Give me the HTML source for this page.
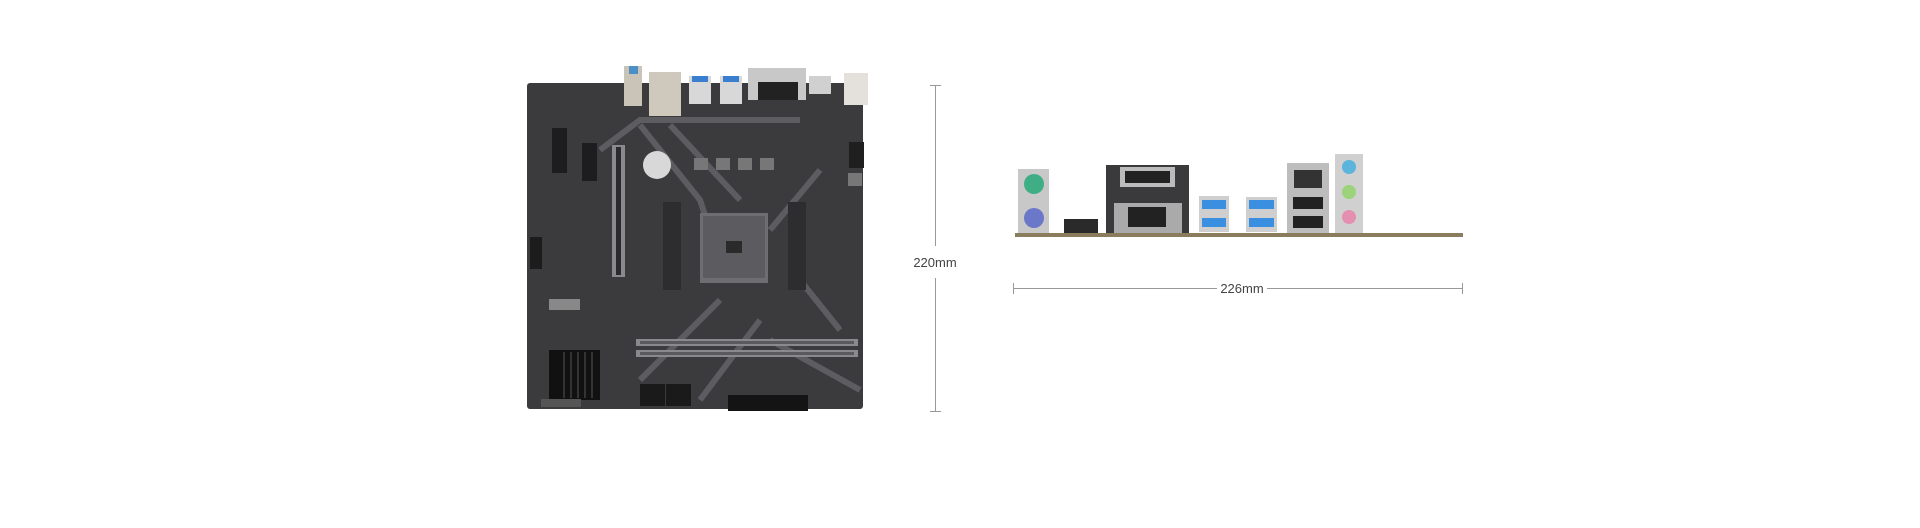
<!DOCTYPE html>
<html><head><meta charset="utf-8"><style>
html,body{margin:0;padding:0;background:#fff;}
body{width:1920px;height:528px;position:relative;overflow:hidden;font-family:"Liberation Sans",sans-serif;}
.lbl{position:absolute;font-size:13px;color:#444;background:#fff;padding:0 2px;}
</style></head><body>
<svg width="1920" height="528" style="position:absolute;left:0;top:0">
<!-- board -->
<rect x="527" y="83" width="336" height="326" rx="3" fill="#3b3b3e"/>
<!-- diagonal light traces -->
<g stroke="#66666a" stroke-width="6" fill="none" opacity="0.8">
<path d="M640 125 L700 200 L720 260"/><path d="M670 125 L740 200"/>
<path d="M820 170 L770 230"/><path d="M840 330 L800 280"/>
<path d="M640 380 L720 300"/><path d="M700 400 L760 320"/>
<path d="M600 150 L640 120 L800 120"/><path d="M770 340 L860 390"/>
</g>
<!-- IO top -->
<rect x="624" y="66" width="18" height="40" fill="#c9c3b8"/><rect x="629" y="66" width="9" height="8" fill="#4a8fc7"/>
<rect x="649" y="72" width="32" height="44" fill="#cfc8bd"/>
<rect x="689" y="76" width="22" height="28" fill="#d8d8d8"/><rect x="692" y="76" width="16" height="6" fill="#3a7fcf"/>
<rect x="720" y="76" width="22" height="28" fill="#d8d8d8"/><rect x="723" y="76" width="16" height="6" fill="#3a7fcf"/>
<rect x="748" y="68" width="58" height="32" fill="#c8c8c8"/><rect x="758" y="82" width="40" height="18" fill="#222"/>
<rect x="809" y="76" width="22" height="18" fill="#d0d0d0"/>
<rect x="844" y="73" width="24" height="32" fill="#e4e0dc"/>
<!-- PCIe x16 -->
<rect x="612" y="145" width="13" height="132" fill="#8a8a8e"/><rect x="616" y="147" width="5" height="128" fill="#2b2b2d"/>
<!-- small PCIe -->
<rect x="552" y="128" width="15" height="45" fill="#1d1d1f"/><rect x="582" y="143" width="15" height="38" fill="#1d1d1f"/>
<!-- battery -->
<circle cx="657" cy="165" r="14" fill="#d8d8d8"/>
<!-- CPU socket -->
<rect x="700" y="213" width="68" height="70" fill="#6e6e72"/><rect x="703" y="216" width="62" height="62" fill="#5b5b60"/>
<rect x="726" y="241" width="16" height="12" fill="#2a2a2a"/>
<rect x="663" y="202" width="18" height="88" fill="#2d2d30"/><rect x="788" y="202" width="18" height="88" fill="#2d2d30"/>
<!-- VRMs -->
<g fill="#777"><rect x="694" y="158" width="14" height="12"/><rect x="716" y="158" width="14" height="12"/><rect x="738" y="158" width="14" height="12"/><rect x="760" y="158" width="14" height="12"/><rect x="848" y="173" width="14" height="13"/></g>
<rect x="849" y="142" width="15" height="26" fill="#1f1f20"/>
<!-- DIMMs -->
<rect x="636" y="339" width="222" height="7" fill="#8a8a8e"/><rect x="636" y="350" width="222" height="7" fill="#8a8a8e"/>
<rect x="640" y="341" width="214" height="3" fill="#5a5a5e"/><rect x="640" y="352" width="214" height="3" fill="#5a5a5e"/>
<!-- heatsink -->
<rect x="549" y="350" width="51" height="50" fill="#111"/>
<g fill="#333"><rect x="563" y="352" width="2" height="46"/><rect x="570" y="352" width="2" height="46"/><rect x="577" y="352" width="2" height="46"/><rect x="584" y="352" width="2" height="46"/><rect x="591" y="352" width="2" height="46"/></g>
<rect x="541" y="399" width="40" height="8" fill="#555"/>
<!-- SATA / 24pin -->
<rect x="640" y="384" width="25" height="22" fill="#1a1a1a"/><rect x="666" y="384" width="25" height="22" fill="#1a1a1a"/>
<rect x="728" y="395" width="80" height="16" fill="#141414"/>
<!-- left headers -->
<rect x="530" y="237" width="12" height="32" fill="#1c1c1c"/><rect x="549" y="299" width="31" height="11" fill="#888"/>
<!-- dimension 220 -->
<g stroke="#999" stroke-width="1"><line x1="935.5" y1="85" x2="935.5" y2="246"/><line x1="935.5" y1="278" x2="935.5" y2="412"/><line x1="930" y1="85.5" x2="941" y2="85.5"/><line x1="930" y1="411.5" x2="941" y2="411.5"/></g>
<text x="935" y="267" font-family="Liberation Sans" font-size="13" fill="#444" text-anchor="middle">220mm</text>
<!-- IO panel -->
<rect x="1015" y="233" width="448" height="4" fill="#8a7d5e"/>
<rect x="1018" y="169" width="31" height="64" fill="#c8c8c8"/>
<circle cx="1034" cy="184" r="10" fill="#3fae84"/><circle cx="1034" cy="218" r="10" fill="#6b77c8"/>
<rect x="1064" y="219" width="34" height="14" fill="#2a2a2a"/>
<rect x="1106" y="165" width="83" height="68" fill="#3a3a3c"/><rect x="1120" y="167" width="55" height="20" fill="#bbb"/><rect x="1125" y="171" width="45" height="12" fill="#222"/>
<rect x="1114" y="203" width="68" height="30" fill="#aaa"/><rect x="1128" y="207" width="38" height="20" fill="#222"/>
<rect x="1199" y="196" width="30" height="36" fill="#cfcfcf"/><rect x="1202" y="200" width="24" height="9" fill="#3b8fe0"/><rect x="1202" y="218" width="24" height="9" fill="#3b8fe0"/>
<rect x="1246" y="197" width="31" height="35" fill="#cfcfcf"/><rect x="1249" y="200" width="25" height="9" fill="#3b8fe0"/><rect x="1249" y="218" width="25" height="9" fill="#3b8fe0"/>
<rect x="1287" y="163" width="42" height="70" fill="#bdbdbd"/><rect x="1294" y="170" width="28" height="18" fill="#333"/><rect x="1293" y="197" width="30" height="12" fill="#222"/><rect x="1293" y="216" width="30" height="12" fill="#222"/>
<rect x="1335" y="154" width="28" height="79" fill="#d0d0d0"/>
<circle cx="1349" cy="167" r="7" fill="#5ab4dc"/><circle cx="1349" cy="192" r="7" fill="#9bd37a"/><circle cx="1349" cy="217" r="7" fill="#e58fb0"/>
<!-- dimension 226 -->
<g stroke="#999" stroke-width="1"><line x1="1013" y1="288.5" x2="1217" y2="288.5"/><line x1="1267" y1="288.5" x2="1463" y2="288.5"/><line x1="1013.5" y1="283" x2="1013.5" y2="294"/><line x1="1462.5" y1="283" x2="1462.5" y2="294"/></g>
<text x="1242" y="293" font-family="Liberation Sans" font-size="13" fill="#444" text-anchor="middle">226mm</text>
</svg>
</body></html>
